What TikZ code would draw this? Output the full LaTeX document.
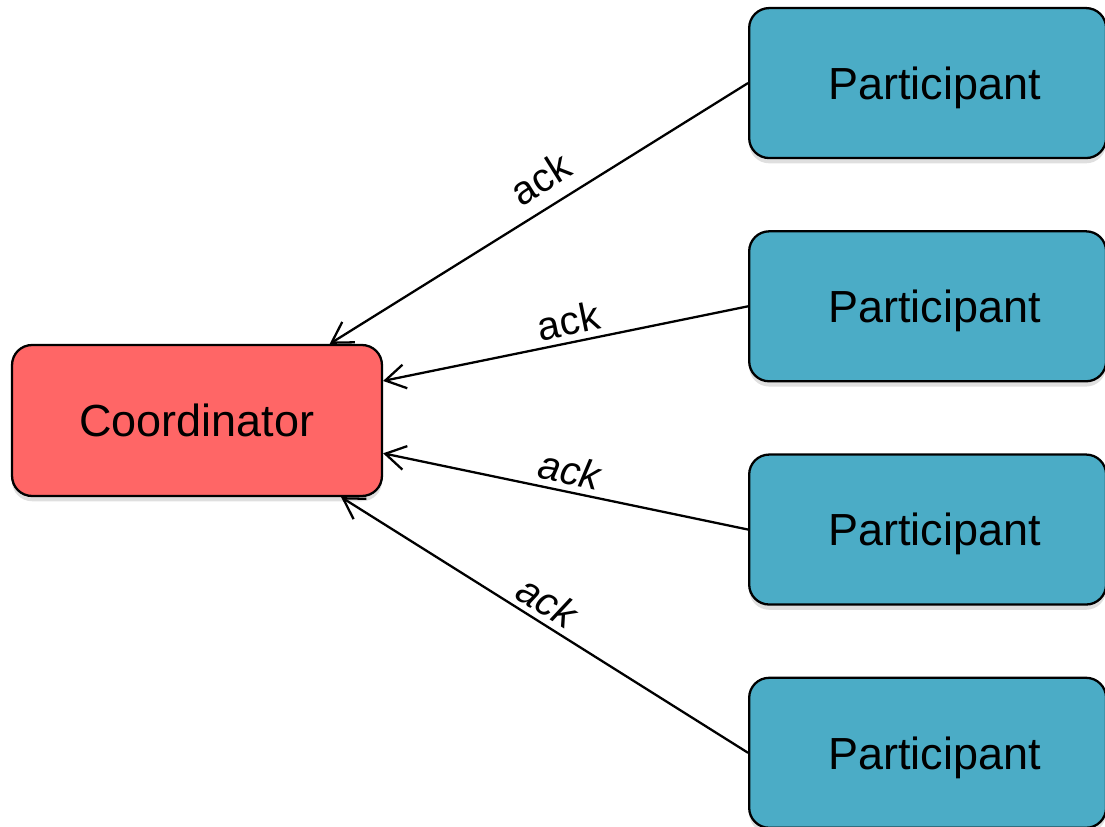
\documentclass[tikz,border=0pt]{standalone}
\usepackage{fontspec}
\setmainfont{Liberation Sans}
\usetikzlibrary{positioning,arrows.meta,shadows}
\definecolor{coordred}{HTML}{FF6666}
\definecolor{partblue}{HTML}{4BACC6}

\begin{document}
\begin{tikzpicture}[x=0.02cm,y=-0.02cm,
		coordbox/.style={draw=black,line width=1.3pt,fill=coordred,rounded corners=0.4cm,minimum width=7.4cm,minimum height=3.02cm,font=\fontsize{25.6}{30}\selectfont,text depth=0pt,drop shadow={opacity=0.25,shadow xshift=0pt,shadow yshift=-3pt}},
		partbox/.style={draw=black,line width=1.3pt,fill=partblue,rounded corners=0.4cm,minimum width=7.14cm,minimum height=3cm,font=\fontsize{25.6}{30}\selectfont,text depth=0pt,drop shadow={opacity=0.25,shadow xshift=0pt,shadow yshift=-3pt},execute at begin node={\hspace*{0.28cm}}},
		ackarrow/.style={line width=1.3pt,-{Straight Barb[length=0.4cm,width=0.48cm]}},
		acklabel/.style={midway,above,sloped,font=\fontsize{22.8}{26}\selectfont}]
		\useasboundingbox (0,0) rectangle (1105,827);
		\node[coordbox] (coord) at (197,420.5) {Coordinator};
		\node[partbox, right=7.3cm of coord, yshift=6.75cm] (p1) {Participant};
		\node[partbox, below=1.42cm of p1] (p2) {Participant};
		\node[partbox, below=1.42cm of p2] (p3) {Participant};
		\node[partbox, below=1.42cm of p3] (p4) {Participant};
		
		\draw[ackarrow] (p1.west) -- node[acklabel,pos=0.46,yshift=4pt] {ack} (coord.30.5);
		\draw[ackarrow] (p2.west) -- node[acklabel,pos=0.48] {ack} (coord.12.3);
		\draw[ackarrow] (p3.west) -- node[acklabel] {\itshape ack} (coord.-10.5);
		\draw[ackarrow] (p4.west) -- node[acklabel,pos=0.52] {\itshape ack} (coord.-28.2);
	\end{tikzpicture}
\end{document}
